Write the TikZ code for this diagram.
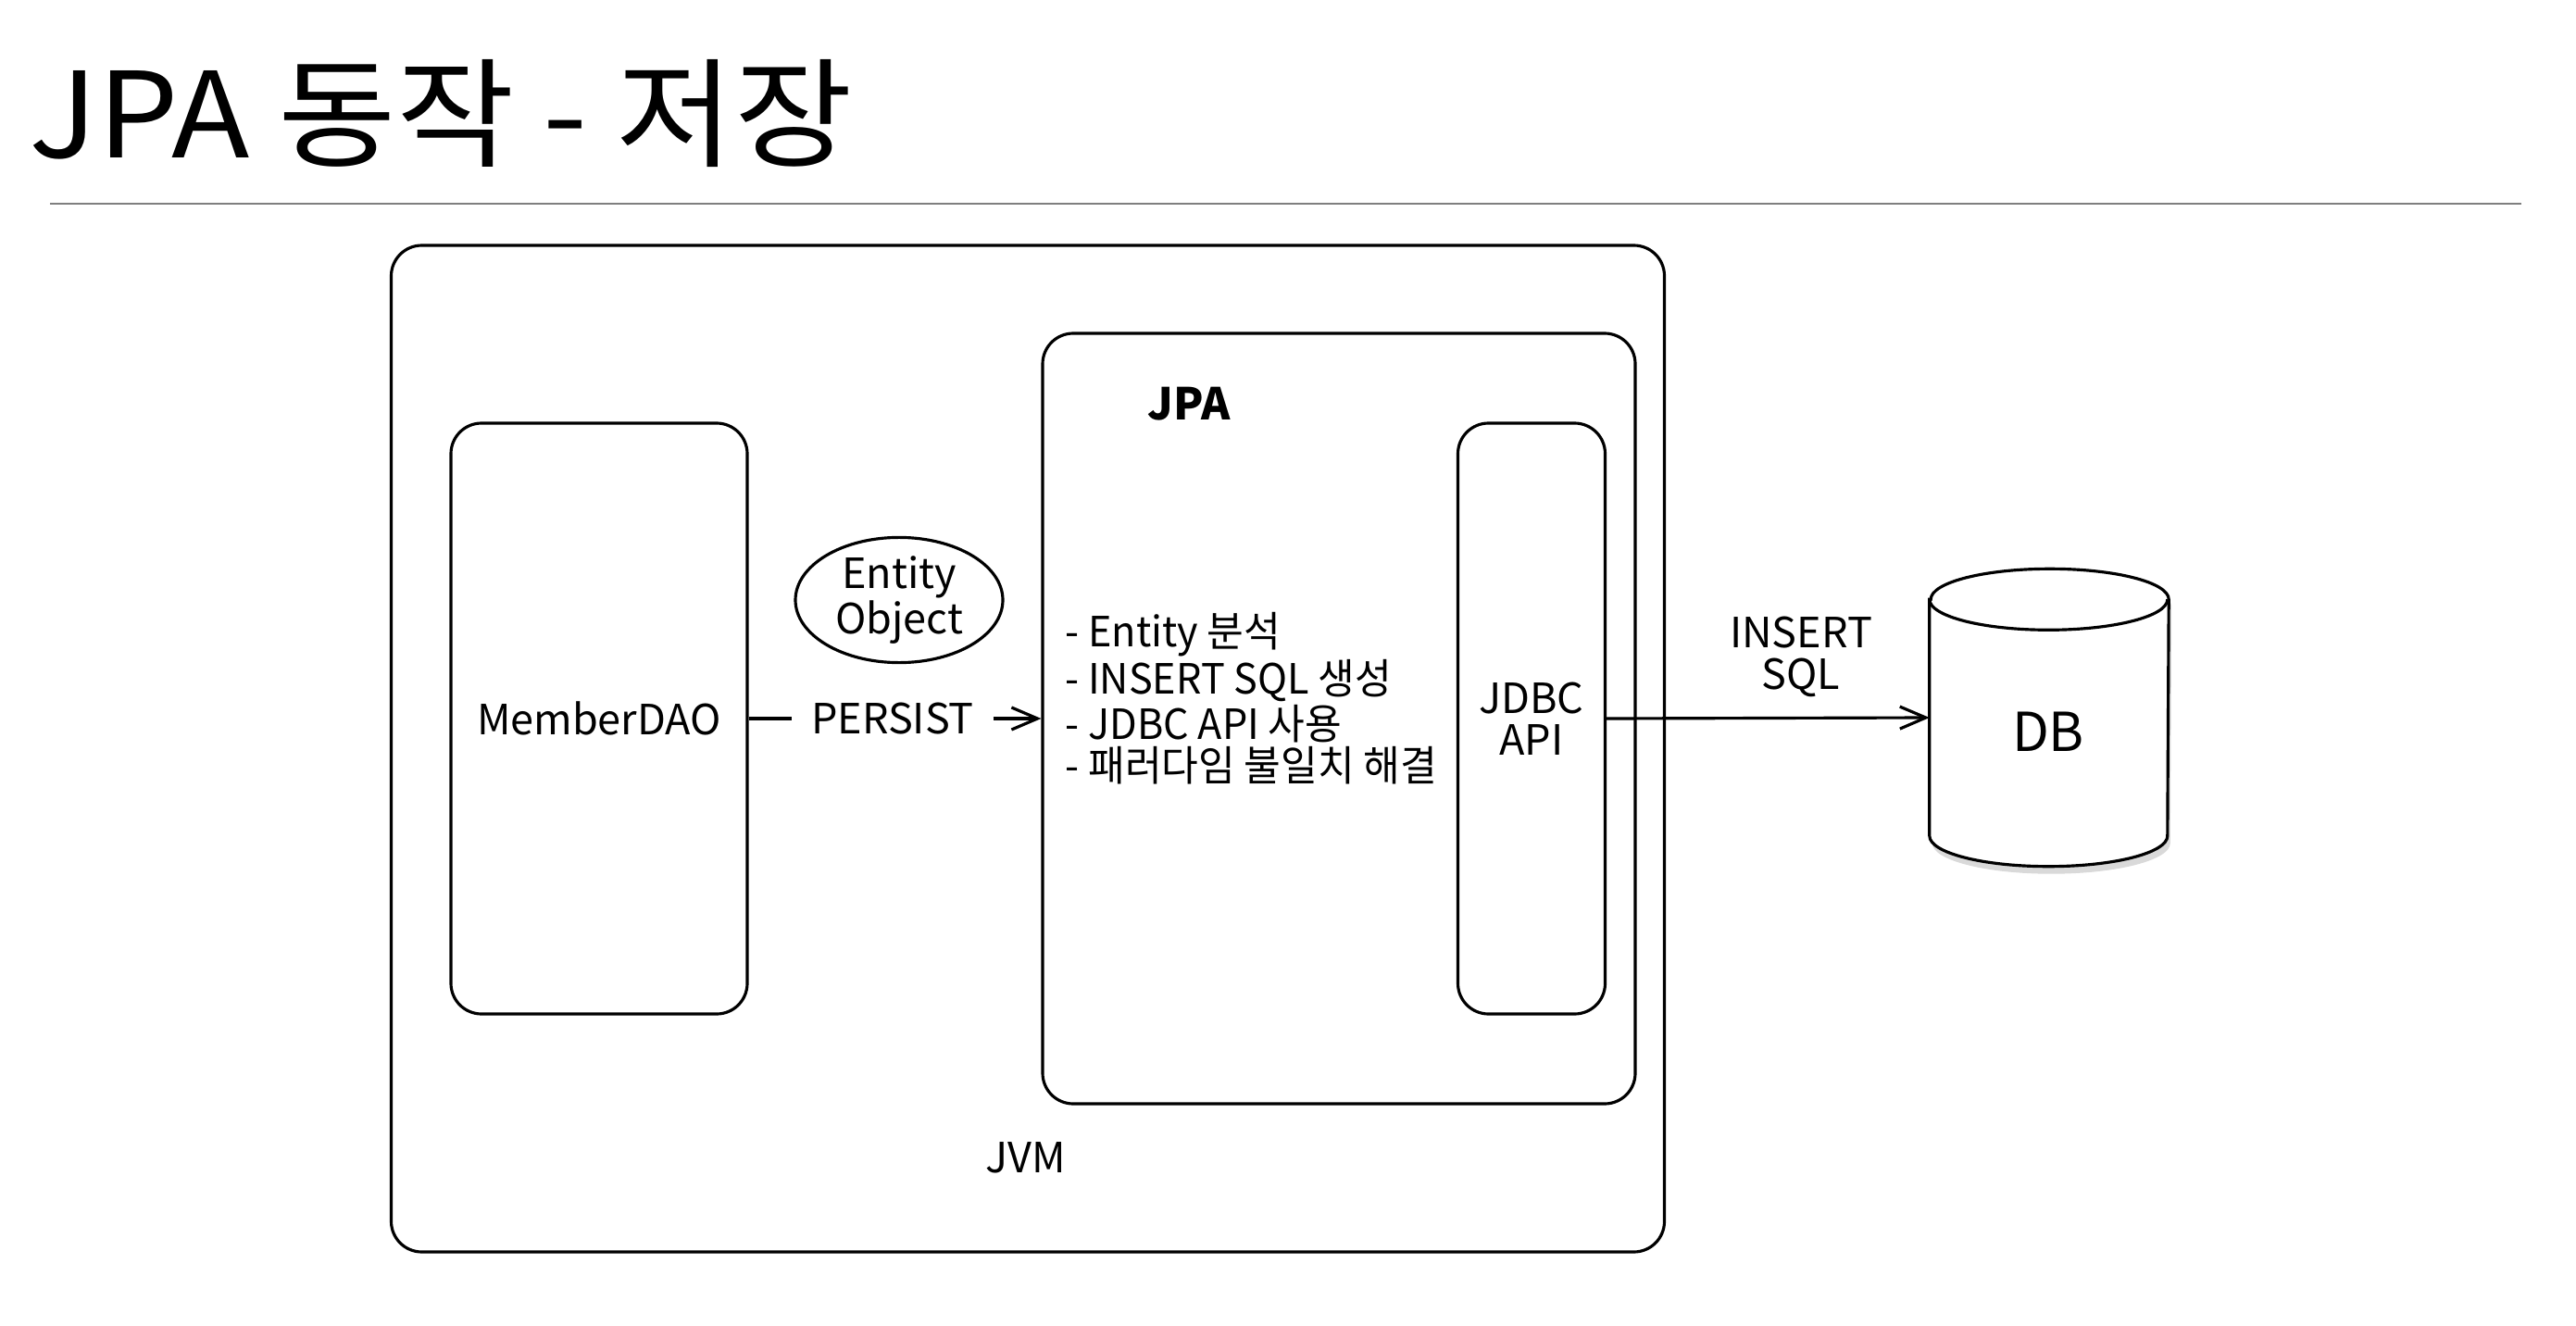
\documentclass[tikz,border=0pt]{standalone}
\usepackage{fontspec}
\setmainfont{Noto Sans CJK KR}
\newfontfamily\titlefont[FakeStretch=1.08]{Noto Sans CJK KR}
\newfontfamily\listfont[FakeStretch=0.96]{Noto Sans CJK KR}
\usetikzlibrary{shapes.geometric,arrows.meta,shadows,positioning}
\tikzstyle{box}=[rectangle, rounded corners=0.33cm, draw=black, line width=0.9pt]
\tikzstyle{l1}=[line width=0.9pt]
\tikzstyle{txt}=[inner sep=0pt, align=center, font=\fontsize{12.8}{12.8}\selectfont]
\tikzstyle{arr}=[l1, -{Straight Barb[length=2.8mm, width=2.4mm]}]
\definecolor{rulegray}{HTML}{7F7F7F}

\begin{document}
\begin{tikzpicture}
    \useasboundingbox (0,0) rectangle (27.82,-14.32);
    \node[anchor=base west, inner sep=0pt, font=\titlefont\fontsize{36.5}{40}\selectfont] at (0.31,-1.71) (title) {JPA 동작 - 저장};
    \coordinate (r0) at (0.54,-2.20);
    \coordinate (r1) at (27.23,-2.20);
    \draw[rulegray, line width=0.6pt] (r0) -- (r1);

    \node[box, minimum width=13.75cm, minimum height=10.87cm] at (11.10,-8.085) (jvm) {};
    \node[txt] at (11.08,-12.50) (jvml) {JVM};

    \node[box, txt, minimum width=3.20cm, minimum height=6.38cm] at (6.47,-7.76) (dao) {MemberDAO};
    \node[ellipse, draw, l1, txt, minimum width=2.24cm, minimum height=1.30cm] at (9.71,-6.48) (ent) {Entity\\Object};
    \node[txt, inner xsep=0.2cm] at (9.64,-7.76) (persist) {PERSIST};

    \node[box, minimum width=6.40cm, minimum height=8.32cm] at (14.46,-7.76) (jpa) {};
    \node[txt, font=\fontsize{13.5}{13.5}\selectfont\bfseries] at (12.84,-4.36) (jpal) {JPA};
    \node[txt, font=\listfont\fontsize{12.8}{12.8}\selectfont, align=left, anchor=west] at (11.50,-7.54) (steps) {- Entity 분석\\- INSERT SQL 생성\\- JDBC API 사용\\- 패러다임 불일치 해결};
    \node[box, txt, minimum width=1.59cm, minimum height=6.38cm] at (16.54,-7.76) (jdbc) {JDBC\\API};

    % DB cylinder
    \node[minimum width=2.57cm, minimum height=3.20cm, inner sep=0pt] at (22.13,-7.75) (db) {};
    \coordinate (c1) at ([yshift=-0.33cm]db.north west);
    \coordinate (c2) at ([yshift=0.33cm]db.south west);
    \coordinate (c3) at ([yshift=-0.33cm]db.north east);
    \draw[l1, fill=white, drop shadow={opacity=0.3, shadow xshift=0.03cm, shadow yshift=-0.08cm}]
        (c1) -- (c2) arc[start angle=180, end angle=360, x radius=1.285cm, y radius=0.33cm]
        -- (c3) arc[start angle=0, end angle=180, x radius=1.285cm, y radius=0.33cm] -- cycle;
    \draw[l1] (c1) arc[start angle=180, end angle=360, x radius=1.285cm, y radius=0.33cm];
    \node[txt, font=\fontsize{16.5}{16.5}\selectfont] at (22.12,-7.90) (dbl) {DB};
    \node[txt] at (19.45,-7.09) (sqll) {INSERT\\SQL};

    \draw[l1] (dao.east) -- (persist.west);
    \draw[arr] (persist.east) -- (jpa.west);
    \draw[arr] (jdbc.east) -- (db.west);
\end{tikzpicture}
\end{document}
